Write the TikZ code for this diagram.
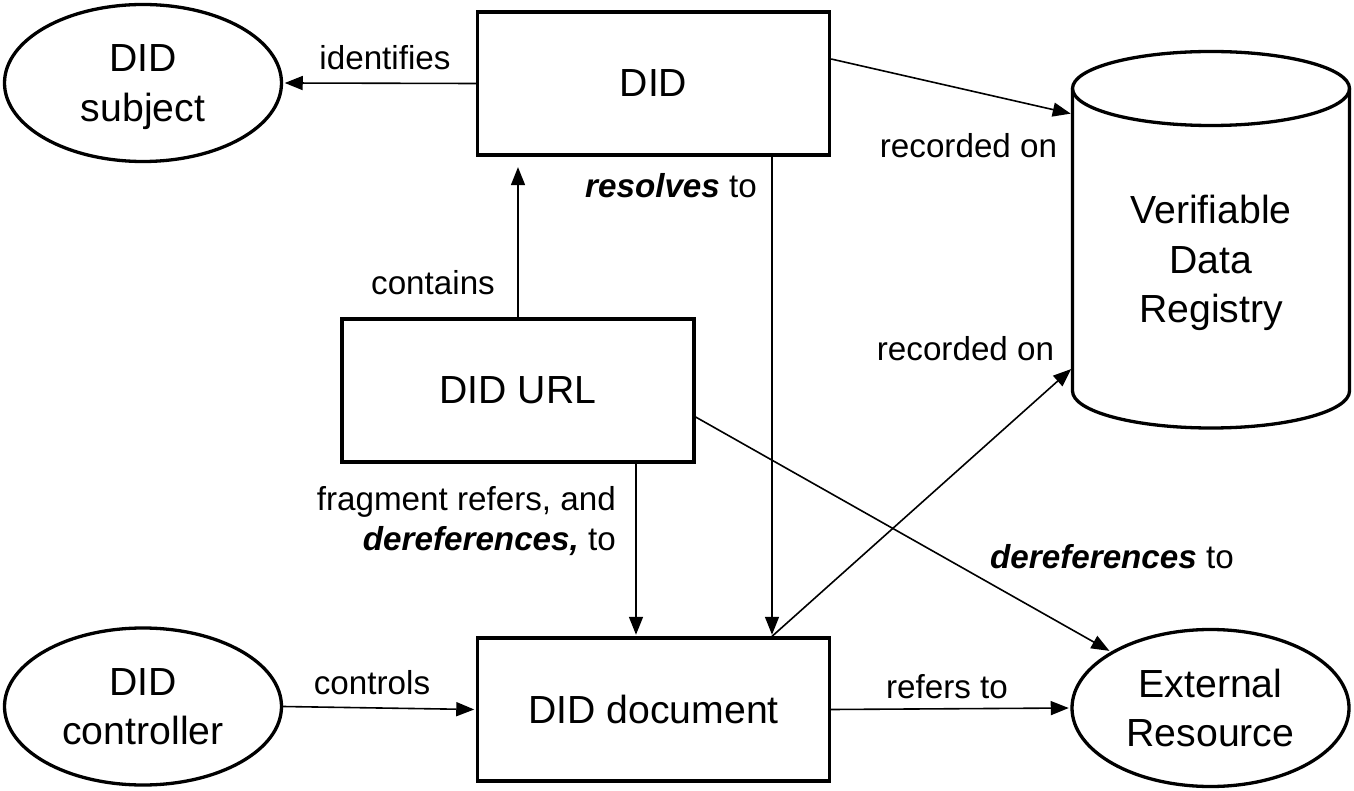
\documentclass[tikz,border=0pt]{standalone}
\usepackage{fontspec}
\setmainfont{Liberation Sans}
\usetikzlibrary{shapes.geometric,arrows.meta}
\begin{document}
\begin{tikzpicture}[x=1pt,y=-1pt,
  big/.style={font=\fontsize{39.2}{49.5}\selectfont},
  lbl/.style={font=\fontsize{33.2}{40}\selectfont, inner sep=0pt, anchor=base},
  box/.style={draw, line width=3.3pt, rectangle, minimum width=352pt, minimum height=143pt, inner sep=0pt, big},
  ell/.style={draw, line width=3.3pt, ellipse, minimum width=277pt, minimum height=157pt, inner sep=0pt, align=center, big},
  arr/.style={line width=1.6pt, -{Triangle[length=18pt,width=14pt]}, shorten >=1.6pt}]
\fill[white] (0,0) rectangle (1354,791);
\useasboundingbox (0,0) rectangle (1354,791);

% nodes
\node[box] (did) at (653.5,83.5) {DID};
\node[box] (url) at (518,390.5) {DID URL};
\node[box] (doc) at (653.5,709.5) {DID document};
\node[ell] (subj) at (143,83) {DID\\\smash{subject}};
\node[ell] (ctrl) at (143,706.5) {DID\\controller};
\node[ell] (ext) at (1210.5,708) {External\\Resource};

% cylinder
\draw[line width=3.3pt] (1211,88.5) ellipse [x radius=138.5, y radius=37];
\draw[line width=3.3pt, line join=round] (1072.5,88.5) -- (1072.5,391)
  .. controls (1072.5,411.4) and (1134.5,428) .. (1211,428)
  .. controls (1287.5,428) and (1349.5,411.4) .. (1349.5,391) -- (1349.5,88.5);
\node[big, align=center, inner sep=0pt, minimum width=277pt] (vdr) at (1211,259) {Verifiable\\Data\\\smash{Registry}};

% connectors
\draw[arr] (did.west) -- (subj.east);
\draw[arr] ([yshift=24.5pt]did.east) -- ([yshift=145pt]vdr.west);
\draw[arr] ([xshift=118.5pt]did.south) -- ([xshift=118.5pt]doc.north);
\draw[arr, shorten >=10.5pt] (url.north) -- (url.north |- did.south);
\draw[arr] ([xshift=118pt]url.south) -- ([xshift=118pt]url.south |- doc.north);
\draw[arr] ([yshift=-26.5pt]url.east) -- (ext);
\draw[arr] ([xshift=118.5pt]doc.north) -- ([yshift=-109pt]vdr.west);
\draw[arr] (ctrl.east) -- (doc.west);
\draw[arr] (doc.east) -- (ext.west);

% labels
\node[lbl] (l1) at (385,70) {identifies};
\node[lbl] (l2) at (968.5,158) {recorded on};
\node[lbl] (l3) at (671,198) {\textbf{\textit{resolves}} to};
\node[lbl] (l4) at (433,295) {contains};
\node[lbl] (l5) at (965.5,360) {recorded on};
\node[lbl, anchor=north east, align=right] (l6) at (616,486.7) {fragment refers, and\\\textbf{\textit{dereferences,}} to};
\node[lbl] (l7) at (1112,568) {\textbf{\textit{dereferences}} to};
\node[lbl] (l8) at (372,694) {controls};
\node[lbl] (l9) at (947,698) {refers to};
\end{tikzpicture}
\end{document}
